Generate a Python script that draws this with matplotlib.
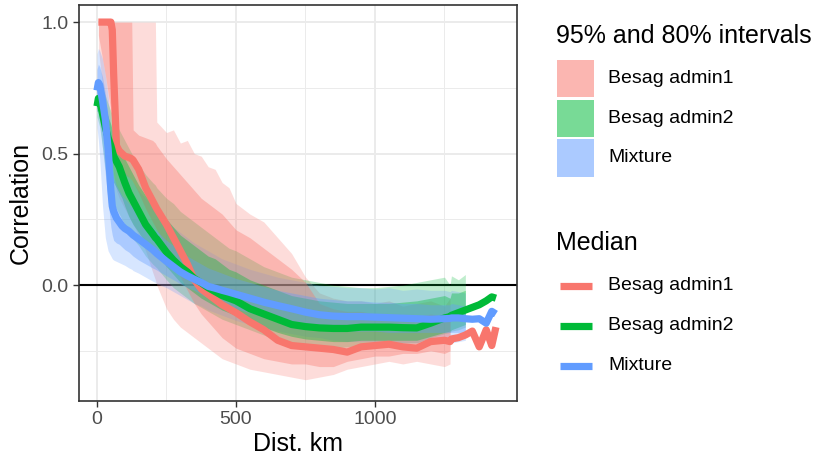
import matplotlib
matplotlib.use("Agg")
import matplotlib.pyplot as plt
from matplotlib.patches import Rectangle
from matplotlib.lines import Line2D
import numpy as np

nan = np.nan

# distance grid (km) shared by all series
dist_km = [0, 5, 10, 20, 30, 40, 50, 55, 60, 70,
           80, 90, 100, 115, 125, 130, 150, 175, 200, 210,
           215, 250, 275, 300, 325, 350, 375, 400, 425, 450,
           475, 500, 550, 600, 650, 700, 750, 800, 850, 900,
           950, 1000, 1050, 1100, 1150, 1200, 1250, 1270, 1275, 1300,
           1325, 1350, 1375, 1400, 1420, 1435]

# Besag admin1
adm1_med = [nan, 1.0, 1.0, 1.0, 1.0, 1.0, 1.0, 0.97, 0.80, 0.53,
            0.51, 0.50, 0.49, 0.485, 0.48, 0.475, 0.44, 0.37, 0.32, 0.30,
            0.29, 0.23, 0.18, 0.13, 0.08, 0.02, -0.015, -0.035, -0.055, -0.075,
            -0.09, -0.105, -0.14, -0.17, -0.21, -0.23, -0.235, -0.24, -0.245, -0.255,
            -0.235, -0.23, -0.225, -0.235, -0.24, -0.215, -0.21, -0.215, -0.205, -0.20,
            -0.19, -0.175, -0.235, -0.17, -0.23, -0.16]
adm1_hi95 = [nan, 1.0, 1.0, 1.0, 1.0, 1.0, 1.0, 1.0, 1.0, 1.0,
             1.0, 1.0, 1.0, 1.0, 1.0, 1.0, 1.0, 1.0, 1.0, 1.0,
             0.62, 0.58, 0.59, 0.54, 0.55, 0.50, 0.49, 0.45, 0.44, 0.39,
             0.37, 0.31, 0.27, 0.24, 0.18, 0.12, 0.03, -0.03, -0.05, -0.06,
             -0.06, -0.07, -0.06, -0.08, -0.07, -0.06, -0.08, -0.05, nan, nan,
             nan, nan, nan, nan, nan, nan]
adm1_hi80 = [nan, 1.0, 1.0, 1.0, 1.0, 1.0, 1.0, 1.0, 1.0, 1.0,
             1.0, 1.0, 1.0, 1.0, 1.0, 0.59, 0.57, 0.56, 0.55, 0.54,
             0.53, 0.48, 0.45, 0.42, 0.39, 0.36, 0.33, 0.31, 0.29, 0.27,
             0.24, 0.21, 0.18, 0.14, 0.10, 0.06, 0.01, -0.07, -0.09, -0.10,
             -0.10, -0.11, -0.11, -0.12, -0.12, -0.11, -0.12, -0.10, nan, nan,
             nan, nan, nan, nan, nan, nan]
adm1_lo80 = [nan, 0.95, 0.92, 0.86, 0.80, 0.73, 0.66, 0.62, 0.55, 0.46,
             0.44, 0.43, 0.42, 0.41, 0.40, 0.39, 0.35, 0.29, 0.24, 0.22,
             0.21, 0.14, 0.09, 0.03, -0.02, -0.07, -0.11, -0.14, -0.17, -0.20,
             -0.22, -0.24, -0.26, -0.28, -0.29, -0.30, -0.30, -0.31, -0.31, -0.29,
             -0.28, -0.27, -0.27, -0.26, -0.26, -0.25, -0.26, -0.25, nan, nan,
             nan, nan, nan, nan, nan, nan]
adm1_lo95 = [nan, 0.90, 0.85, 0.76, 0.67, 0.59, 0.52, 0.47, 0.42, 0.36,
             0.33, 0.31, 0.29, 0.26, 0.24, 0.23, 0.19, 0.13, 0.05, 0.02,
             0.0, -0.09, -0.13, -0.16, -0.18, -0.20, -0.22, -0.24, -0.26, -0.28,
             -0.29, -0.30, -0.32, -0.33, -0.34, -0.35, -0.36, -0.35, -0.34, -0.32,
             -0.31, -0.30, -0.29, -0.30, -0.29, -0.30, -0.31, -0.30, nan, nan,
             nan, nan, nan, nan, nan, nan]

# Besag admin2
adm2_med = [0.68, 0.71, 0.70, 0.65, 0.60, 0.56, 0.53, 0.51, 0.49, 0.47,
            0.45, 0.42, 0.39, 0.35, 0.33, 0.32, 0.28, 0.23, 0.195, 0.18,
            0.175, 0.125, 0.095, 0.07, 0.05, 0.025, 0.008, -0.01, -0.025, -0.04,
            -0.05, -0.06, -0.09, -0.11, -0.13, -0.15, -0.158, -0.163, -0.165, -0.165,
            -0.16, -0.16, -0.16, -0.162, -0.163, -0.145, -0.125, -0.12, -0.115, -0.105,
            -0.095, -0.085, -0.075, -0.06, -0.045, -0.05]
adm2_hi95 = [0.73, 0.76, 0.77, 0.75, 0.72, 0.69, 0.66, 0.65, 0.63, 0.61,
             0.59, 0.57, 0.55, 0.52, 0.50, 0.49, 0.46, 0.42, 0.39, 0.38,
             0.37, 0.33, 0.31, 0.28, 0.26, 0.24, 0.22, 0.20, 0.18, 0.16,
             0.14, 0.13, 0.10, 0.07, 0.05, 0.03, 0.02, 0.01, 0.0, -0.005,
             -0.01, -0.01, -0.005, 0.0, 0.01, 0.02, 0.03, 0.0, 0.035, 0.02,
             0.04, nan, nan, nan, nan, nan]
adm2_hi80 = [0.71, 0.74, 0.74, 0.71, 0.67, 0.64, 0.61, 0.59, 0.57, 0.55,
             0.53, 0.51, 0.48, 0.45, 0.43, 0.42, 0.38, 0.34, 0.31, 0.30,
             0.29, 0.25, 0.22, 0.19, 0.17, 0.15, 0.13, 0.11, 0.10, 0.08,
             0.06, 0.05, 0.02, 0.0, -0.02, -0.04, -0.05, -0.06, -0.065, -0.07,
             -0.07, -0.07, -0.07, -0.065, -0.06, -0.05, -0.04, -0.05, -0.03, -0.03,
             -0.02, nan, nan, nan, nan, nan]
adm2_lo80 = [0.66, 0.67, 0.66, 0.59, 0.52, 0.46, 0.43, 0.41, 0.39, 0.37,
             0.35, 0.33, 0.30, 0.26, 0.24, 0.23, 0.20, 0.16, 0.13, 0.12,
             0.115, 0.07, 0.04, 0.01, -0.01, -0.03, -0.05, -0.065, -0.08, -0.095,
             -0.105, -0.115, -0.14, -0.16, -0.18, -0.195, -0.205, -0.21, -0.215, -0.215,
             -0.21, -0.21, -0.21, -0.21, -0.21, -0.195, -0.18, -0.175, -0.17, -0.16,
             -0.15, nan, nan, nan, nan, nan]
adm2_lo95 = [0.64, 0.62, 0.60, 0.52, 0.44, 0.38, 0.35, 0.33, 0.31, 0.29,
             0.27, 0.25, 0.23, 0.20, 0.18, 0.175, 0.15, 0.11, 0.08, 0.07,
             0.065, 0.02, -0.01, -0.03, -0.05, -0.07, -0.085, -0.10, -0.115, -0.13,
             -0.14, -0.15, -0.17, -0.19, -0.21, -0.22, -0.23, -0.235, -0.24, -0.235,
             -0.23, -0.225, -0.225, -0.22, -0.22, -0.20, -0.185, -0.18, -0.175, -0.17,
             -0.16, nan, nan, nan, nan, nan]

# Mixture
mix_med = [0.74, 0.77, 0.76, 0.70, 0.63, 0.52, 0.36, 0.30, 0.28, 0.255,
           0.24, 0.225, 0.215, 0.205, 0.195, 0.19, 0.175, 0.155, 0.135, 0.125,
           0.12, 0.09, 0.07, 0.05, 0.035, 0.022, 0.01, -0.005, -0.012, -0.02,
           -0.027, -0.035, -0.05, -0.065, -0.078, -0.09, -0.103, -0.113, -0.118, -0.12,
           -0.12, -0.122, -0.124, -0.126, -0.128, -0.13, -0.128, -0.127, -0.125, -0.125,
           -0.128, -0.13, -0.128, -0.145, -0.10, -0.11]
mix_hi95 = [0.88, 0.90, 0.89, 0.86, 0.80, 0.72, 0.60, 0.55, 0.52, 0.49,
            0.47, 0.45, 0.43, 0.41, 0.40, 0.39, 0.36, 0.33, 0.30, 0.29,
            0.285, 0.25, 0.22, 0.20, 0.18, 0.16, 0.145, 0.13, 0.115, 0.10,
            0.09, 0.08, 0.06, 0.045, 0.03, 0.02, 0.01, 0.0, -0.005, -0.01,
            -0.01, -0.015, -0.01, -0.02, -0.015, -0.02, -0.02, -0.025, -0.02, -0.025,
            -0.03, nan, nan, nan, nan, nan]
mix_hi80 = [0.82, 0.84, 0.83, 0.79, 0.73, 0.63, 0.50, 0.44, 0.41, 0.38,
            0.36, 0.34, 0.33, 0.31, 0.30, 0.295, 0.27, 0.245, 0.22, 0.21,
            0.205, 0.17, 0.15, 0.13, 0.11, 0.095, 0.08, 0.065, 0.055, 0.045,
            0.035, 0.025, 0.01, -0.005, -0.02, -0.03, -0.04, -0.05, -0.055, -0.06,
            -0.06, -0.065, -0.065, -0.07, -0.07, -0.075, -0.075, -0.075, -0.07, -0.075,
            -0.08, nan, nan, nan, nan, nan]
mix_lo80 = [0.66, 0.66, 0.62, 0.52, 0.42, 0.32, 0.22, 0.19, 0.17, 0.16,
            0.155, 0.145, 0.135, 0.125, 0.115, 0.11, 0.095, 0.08, 0.065, 0.06,
            0.057, 0.035, 0.02, 0.005, -0.01, -0.02, -0.035, -0.05, -0.06, -0.07,
            -0.08, -0.09, -0.105, -0.12, -0.135, -0.145, -0.155, -0.165, -0.17, -0.175,
            -0.175, -0.175, -0.18, -0.18, -0.18, -0.18, -0.18, -0.18, -0.18, -0.18,
            -0.18, nan, nan, nan, nan, nan]
mix_lo95 = [0.60, 0.55, 0.48, 0.30, 0.18, 0.13, 0.11, 0.10, 0.095, 0.09,
            0.085, 0.08, 0.075, 0.065, 0.06, 0.055, 0.045, 0.03, 0.015, 0.01,
            0.005, -0.01, -0.025, -0.04, -0.055, -0.07, -0.08, -0.095, -0.105, -0.115,
            -0.125, -0.135, -0.15, -0.165, -0.175, -0.185, -0.195, -0.2, -0.21, -0.215,
            -0.215, -0.215, -0.215, -0.22, -0.22, -0.22, -0.22, -0.215, -0.22, -0.215,
            -0.21, nan, nan, nan, nan, nan]

models = ["Besag admin1", "Besag admin2", "Mixture"]
colors = ["#F8766D", "#00BA38", "#619CFF"]
medians = [adm1_med, adm2_med, mix_med]
bands95 = [(adm1_lo95, adm1_hi95), (adm2_lo95, adm2_hi95), (mix_lo95, mix_hi95)]
bands80 = [(adm1_lo80, adm1_hi80), (adm2_lo80, adm2_hi80), (mix_lo80, mix_hi80)]

alpha95 = 0.25
alpha80 = 0.37
line_w = 5.2

plt.rcParams['font.family'] = ['Liberation Sans', 'DejaVu Sans']

W, H = 817, 459
fig = plt.figure(figsize=(W / 100, H / 100), dpi=100)

# panel placed in pixel units
left, right, top, bottom = 78.7, 516.5, 5, 400.5
ax = fig.add_axes([left / W, (H - bottom) / H, (right - left) / W, (bottom - top) / H])

x = np.array(dist_km, dtype=float)

ax.axhline(0, color="black", lw=1.5, zorder=1.5)

for (lo, hi), c in zip(bands95, colors):
    ax.fill_between(x, np.array(lo, float), np.array(hi, float),
                    color=c, alpha=alpha95, lw=0, zorder=2)
for (lo, hi), c in zip(bands80, colors):
    ax.fill_between(x, np.array(lo, float), np.array(hi, float),
                    color=c, alpha=alpha80, lw=0, zorder=2.1)
for med, c in zip(medians, colors):
    ax.plot(x, np.array(med, float), color=c, lw=line_w,
            solid_capstyle="butt", solid_joinstyle="round", zorder=3)

ax.set_xlim(-65.8, 1509)
ax.set_ylim(-0.439, 1.065)
ax.set_xticks([0, 500, 1000])
ax.set_xticks([250, 750, 1250], minor=True)
ax.set_yticks([0.0, 0.5, 1.0])
ax.set_yticks([-0.25, 0.25, 0.75], minor=True)
ax.set_yticklabels(["0.0", "0.5", "1.0"])

ax.grid(which="major", color="#EBEBEB", lw=1.4, zorder=0)
ax.grid(which="minor", color="#EBEBEB", lw=0.7, zorder=0)
ax.set_axisbelow(True)
ax.tick_params(which="major", length=4.5, width=1.0, color="#333333",
               labelsize=14, labelcolor="#4D4D4D", pad=3)
ax.tick_params(which="minor", length=0)
for s in ax.spines.values():
    s.set_color("#333333")
    s.set_linewidth(1.2)
    s.set_zorder(4)

ax.set_xlabel("Dist. km", fontsize=18, labelpad=3)
ax.set_ylabel("Correlation", fontsize=18, labelpad=6)


def fx(px):
    return px / W


def fy(py):
    return (H - py) / H


# legend for the interval ribbons
fig.text(fx(556), fy(43), "95% and 80% intervals", fontsize=18, va="baseline")
key_tops = [60, 99.7, 139.3]
for name, c, kt in zip(models, colors, key_tops):
    for a in (alpha95, alpha80):
        fig.add_artist(Rectangle((fx(556.7), fy(kt + 37.3)), 37.3 / W, 37.3 / H,
                                 transform=fig.transFigure, color=c, alpha=a, lw=0))
    fig.text(fx(608.5), fy(kt + 18.6), name, fontsize=14, va="center")

# legend for the medians
fig.text(fx(556), fy(250.5), "Median", fontsize=18, va="baseline")
line_ys = [286, 325.5, 365.5]
for name, c, ly in zip(models, colors, line_ys):
    fig.add_artist(Line2D([fx(560), fx(591.7)], [fy(ly), fy(ly)], color=c, lw=line_w,
                          solid_capstyle="butt", transform=fig.transFigure))
    fig.text(fx(608.5), fy(ly), name, fontsize=14, va="center")

fig.savefig("out.png", dpi=100)
